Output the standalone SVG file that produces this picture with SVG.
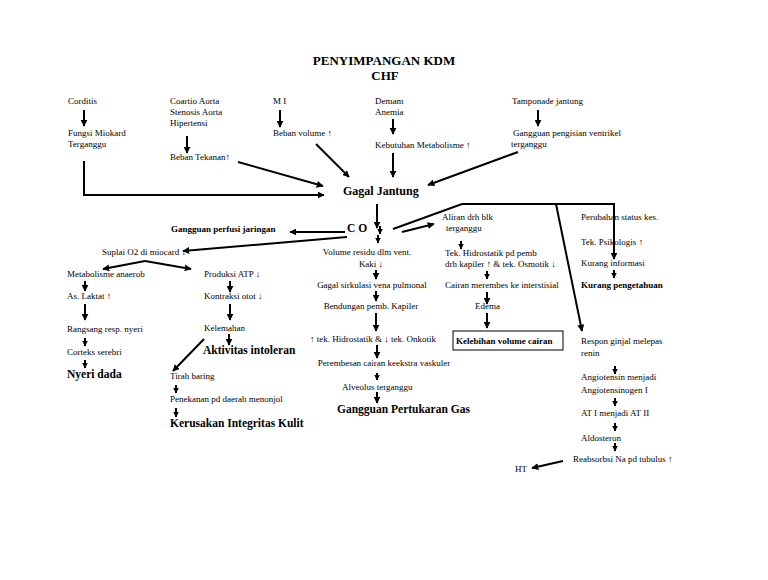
<svg xmlns="http://www.w3.org/2000/svg" width="768" height="580" viewBox="0 0 768 580">
<style>
text{font-family:"Liberation Serif","Times New Roman",serif;fill:#000}
.t{font-size:9px}
.b{font-size:9px;font-weight:bold}
.h{font-size:11.5px;font-weight:bold}
.g{font-size:12px;font-weight:bold}
.ttl{font-size:13px;font-weight:bold}
.c line,.c polyline{stroke:#000;stroke-width:2;fill:none}
.c .m{marker-end:url(#ah)}
.c .s{marker-end:url(#ahs)}
</style>
<defs>
<marker id="ah" viewBox="0 0 10 10" refX="9" refY="5" markerWidth="7" markerHeight="7" markerUnits="userSpaceOnUse" orient="auto"><path d="M0,0 L10,5 L0,10 z" fill="#000"/></marker>
<marker id="ahs" viewBox="0 0 10 10" refX="9" refY="5" markerWidth="5.5" markerHeight="5.5" markerUnits="userSpaceOnUse" orient="auto"><path d="M0,0 L10,5 L0,10 z" fill="#000"/></marker>
</defs>
<rect width="768" height="580" fill="#fff"/>
<g id="title">
<text class="ttl" x="384" y="65" text-anchor="middle">PENYIMPANGAN KDM</text>
<text class="ttl" x="385" y="80" text-anchor="middle">CHF</text>
</g>
<g id="n-corditis"><text class="t" x="68" y="104">Corditis</text></g>
<g id="n-coartio"><text class="t" x="170" y="104">Coartio Aorta</text><text class="t" x="170" y="115">Stenosis Aorta</text><text class="t" x="170" y="126">Hipertensi</text></g>
<g id="n-mi"><text class="t" x="273" y="104">M I</text></g>
<g id="n-demam"><text class="t" x="375" y="104">Demam</text><text class="t" x="375" y="115">Anemia</text></g>
<g id="n-tamponade"><text class="t" x="512" y="104">Tamponade jantung</text></g>
<g id="n-fungsi"><text class="t" x="68" y="136">Fungsi Miokard</text><text class="t" x="68" y="147">Terganggu</text></g>
<g id="n-bebantekanan"><text class="t" x="170" y="160">Beban Tekanan↑</text></g>
<g id="n-bebanvolume"><text class="t" x="273" y="136">Beban volume ↑</text></g>
<g id="n-kebutuhan"><text class="t" x="375" y="148">Kebutuhan Metabolisme ↑</text></g>
<g id="n-pengisian"><text class="t" x="513" y="136">Gangguan pengisian ventrikel</text><text class="t" x="511" y="147">terganggu</text></g>
<g id="n-gagal"><text class="g" x="343" y="195">Gagal Jantung</text></g>
<g id="n-co"><text class="h" x="347" y="232">C O</text></g>
<g id="n-perfusi"><text class="b" x="171" y="232">Gangguan perfusi jaringan</text></g>
<g id="n-suplai"><text class="t" x="102" y="255">Suplai O2  di miocard ↓</text></g>
<g id="n-metabolisme"><text class="t" x="67" y="277">Metabolisme anaerob</text></g>
<g id="n-laktat"><text class="t" x="67" y="299">As. Laktat ↑</text></g>
<g id="n-rangsang"><text class="t" x="67" y="332">Rangsang resp. nyeri</text></g>
<g id="n-corteks"><text class="t" x="67" y="355">Corteks serebri</text></g>
<g id="n-nyeri"><text class="h" x="67" y="378">Nyeri dada</text></g>
<g id="n-atp"><text class="t" x="204" y="277">Produksi ATP ↓</text></g>
<g id="n-kontraksi"><text class="t" x="204" y="299">Kontraksi otot ↓</text></g>
<g id="n-kelemahan"><text class="t" x="204" y="331">Kelemahan</text></g>
<g id="n-aktivitas"><text class="h" x="203" y="354">Aktivitas intoleran</text></g>
<g id="n-tirah"><text class="t" x="170" y="379">Tirah baring</text></g>
<g id="n-penekanan"><text class="t" x="170" y="402">Penekanan pd daerah menonjol</text></g>
<g id="n-kerusakan"><text class="h" x="170" y="427">Kerusakan Integritas Kulit</text></g>
<g id="n-volume"><text class="t" x="367" y="255" text-anchor="middle">Volume residu dlm vent.</text><text class="t" x="371" y="267" text-anchor="middle">Kaki ↓</text></g>
<g id="n-sirkulasi"><text class="t" x="372" y="288" text-anchor="middle">Gagal sirkulasi vena pulmonal</text></g>
<g id="n-bendungan"><text class="t" x="371" y="309" text-anchor="middle">Bendungan pemb. Kapiler</text></g>
<g id="n-hidro"><text class="t" x="373" y="342" text-anchor="middle">↑ tek. Hidrostatik &amp; ↓ tek. Onkotik</text></g>
<g id="n-perembesan"><text class="t" x="384" y="366" text-anchor="middle">Perembesan cairan keekstra vaskuler</text></g>
<g id="n-alveolus"><text class="t" x="342" y="390">Alveolus terganggu</text></g>
<g id="n-gas"><text class="h" x="337" y="413">Gangguan Pertukaran Gas</text></g>
<g id="n-aliran"><text class="t" x="442" y="220">Aliran drh blk</text><text class="t" x="446" y="231">terganggu</text></g>
<g id="n-tekhidro"><text class="t" x="445" y="256">Tek. Hidrostatik pd pemb</text><text class="t" x="445" y="267">drh kapiler ↑ &amp; tek. Osmotik ↓</text></g>
<g id="n-cairan"><text class="t" x="445" y="288">Cairan merembes ke interstisial</text></g>
<g id="n-edema"><text class="t" x="475" y="309">Edema</text></g>
<g id="n-kelebihan"><rect x="453" y="331" width="110" height="19" fill="none" stroke="#000" stroke-width="1"/><text class="b" x="456" y="344">Kelebihan volume cairan</text></g>
<g id="n-perubahan"><text class="t" x="581" y="220">Perubahan status kes.</text></g>
<g id="n-psikologis"><text class="t" x="581" y="245">Tek. Psikologis ↑</text></g>
<g id="n-informasi"><text class="t" x="581" y="266">Kurang informasi</text></g>
<g id="n-pengetahuan"><text class="b" x="581" y="288">Kurang pengetahuan</text></g>
<g id="n-respon"><text class="t" x="581" y="344">Respon ginjal melepas</text><text class="t" x="581" y="356">renin</text></g>
<g id="n-angiotensin"><text class="t" x="581" y="380">Angiotensin menjadi</text><text class="t" x="581" y="393">Angiotensinogen I</text></g>
<g id="n-at"><text class="t" x="581" y="416">AT I menjadi AT II</text></g>
<g id="n-aldosteron"><text class="t" x="581" y="441">Aldosteron</text></g>
<g id="n-reabsorbsi"><text class="t" x="573" y="462">Reabsorbsi Na pd tubulus ↑</text></g>
<g id="n-ht"><text class="t" x="515" y="472">HT</text></g>
<g id="connectors" class="c">
<line class="m" x1="84" y1="110" x2="84" y2="126"/>
<line class="m" x1="187" y1="136" x2="187" y2="153"/>
<line class="m" x1="280" y1="110" x2="280" y2="127"/>
<line class="m" x1="393" y1="119" x2="393" y2="134"/>
<line class="m" x1="538" y1="110" x2="538" y2="126"/>
<polyline class="m" points="84,161 84,195 324,195"/>
<line class="m" x1="238" y1="162" x2="323" y2="186"/>
<line class="m" x1="316" y1="144" x2="349" y2="177"/>
<line class="m" x1="393" y1="153" x2="393" y2="177"/>
<line class="m" x1="518" y1="152" x2="428" y2="185"/>
<line class="m" x1="377" y1="204" x2="377" y2="228"/>
<line class="s" x1="380" y1="226" x2="380" y2="234"/>
<line class="s" x1="378" y1="235" x2="378" y2="243"/>
<line class="m" x1="345" y1="232" x2="290" y2="232"/>
<line class="m" x1="347" y1="237" x2="183" y2="251"/>
<polyline class="m" points="145,261 103,269"/>
<polyline class="m" points="145,261 191,269"/>
<line class="m" x1="85" y1="281" x2="85" y2="291"/>
<line class="m" x1="85" y1="304" x2="85" y2="320"/>
<line class="s" x1="85" y1="338" x2="85" y2="346"/>
<line class="s" x1="85" y1="360" x2="85" y2="368"/>
<line class="m" x1="230" y1="281" x2="230" y2="292"/>
<line class="m" x1="230" y1="304" x2="230" y2="320"/>
<line class="m" x1="229" y1="334" x2="229" y2="345"/>
<line class="m" x1="204" y1="339" x2="173" y2="371"/>
<line class="s" x1="176" y1="385" x2="176" y2="393"/>
<line class="s" x1="176" y1="408" x2="176" y2="417"/>
<line class="m" x1="376" y1="270" x2="376" y2="279"/>
<line class="m" x1="376" y1="291" x2="376" y2="301"/>
<line class="m" x1="376" y1="313" x2="376" y2="331"/>
<line class="m" x1="377" y1="345" x2="377" y2="358"/>
<line class="s" x1="377" y1="373" x2="377" y2="380"/>
<line class="m" x1="377" y1="392" x2="377" y2="403"/>
<polyline class="m" points="393,229 462,204 614,204 614,259"/>
<line class="m" x1="556" y1="204" x2="582" y2="331"/>
<line class="m" x1="402" y1="232" x2="434" y2="224"/>
<line class="s" x1="461" y1="241" x2="461" y2="249"/>
<line class="s" x1="487" y1="271" x2="487" y2="279"/>
<line class="m" x1="487" y1="292" x2="487" y2="304"/>
<line class="m" x1="487" y1="313" x2="487" y2="328"/>
<line class="s" x1="614" y1="270" x2="614" y2="278"/>
<line class="s" x1="615" y1="366" x2="615" y2="374"/>
<line class="s" x1="615" y1="398" x2="615" y2="406"/>
<line class="s" x1="615" y1="423" x2="615" y2="431"/>
<line class="s" x1="615" y1="443" x2="615" y2="451"/>
<line class="m" x1="563" y1="461" x2="532" y2="468"/>
</g>
</svg>
